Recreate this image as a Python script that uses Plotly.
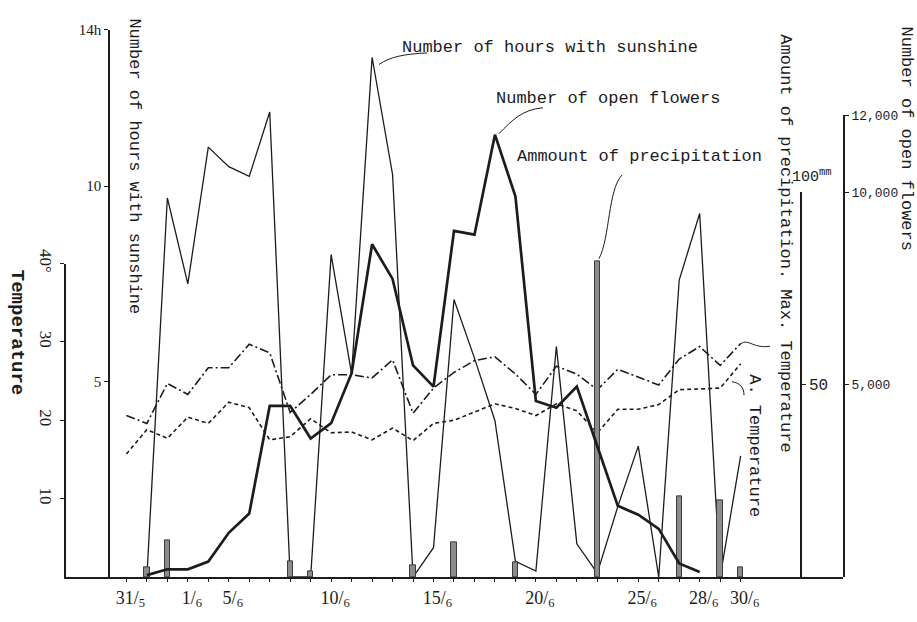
import plotly.graph_objects as go

# ---------------- data ----------------
days = list(range(0, 31))                      # 0 = 31 May, 1..30 = June
tick_days = list(range(0, 31))
tick_names = {0: "31/<sub>5</sub>", 3: "1/<sub>6</sub>", 5: "5/<sub>6</sub>",
              10: "10/<sub>6</sub>", 15: "15/<sub>6</sub>", 20: "20/<sub>6</sub>",
              25: "25/<sub>6</sub>", 28: "28/<sub>6</sub>", 30: "30/<sub>6</sub>"}

sun_days = list(range(1, 31))
sunshine = [0, 9.7, 7.5, 11.0, 10.5, 10.25, 11.9, 0, 0, 8.25,
            5.2, 13.3, 10.3, 0, 0.75, 7.1, 5.6, 4.0, 0.4, 0.15,
            5.9, 0.85, 0.1, 1.8, 3.35, 0, 7.6, 9.3, 0, 3.1]

flower_days = list(range(1, 29))
flowers = [50, 200, 200, 400, 1150, 1650, 4450, 4450, 3600, 4000,
           5300, 8650, 7750, 5500, 4950, 9000, 8900, 11500, 9900, 4575,
           4400, 4950, 3400, 1850, 1620, 1250, 350, 130]

max_temp = [20.6, 19.6, 24.7, 23.3, 26.7, 26.7, 29.7, 28.6, 21.0, 23.3,
            25.8, 25.8, 25.4, 27.7, 20.9, 24.1, 26.1, 27.6, 28.1, 25.9,
            23.3, 26.9, 25.9, 23.9, 26.5, 25.5, 24.5, 27.8, 29.4, 27.0, 29.8]

a_temp = [15.7, 18.8, 17.7, 20.4, 19.6, 22.3, 21.6, 17.5, 17.9, 20.2,
          18.4, 18.5, 17.5, 19.0, 17.4, 19.6, 20.0, 21.0, 22.1, 21.5,
          20.6, 22.1, 21.2, 18.4, 21.4, 21.4, 22.0, 23.9, 24.0, 24.1, 27.2]

precip_days = [1, 2, 8, 9, 14, 16, 19, 23, 27, 29, 30]
precip = [2.5, 9.5, 4, 1.5, 3, 9, 3.75, 82, 21, 20, 2.5]

temp_ticks = [10, 20, 30, 40]
temp_tick_text = ["10", "20", "30", "40°"]
sun_ticks = [5, 10, 14]
sun_tick_text = ["5", "10", "14h"]
flower_ticks = [5000, 10000, 12000]
flower_tick_text = ["5,000", "10,000", "12,000"]
precip_ticks = [50]
precip_tick_text = ["50"]

# ---------------- layout geometry ----------------
W, H = 917, 622
ML, MR, MT, MB = 66, 74, 20, 29
PW = W - ML - MR
PH = H - MT - MB


def px(x, y):
    """pixel position -> paper coordinates (for decorations only)"""
    return (x - ML) / PW, (H - MB - y) / PH


INK = "#1c1c1c"
MONO = "Liberation Mono, Courier New, monospace"
SERIF = "Liberation Serif, Times New Roman, serif"

fig = go.Figure()

# precipitation bars
fig.add_trace(go.Bar(x=precip_days, y=precip, width=0.26, yaxis="y3",
                     marker=dict(color="#8c8c8c", line=dict(color="#3a3a3a", width=1)),
                     showlegend=False))

# temperatures
fig.add_trace(go.Scatter(x=days, y=max_temp, mode="lines", yaxis="y",
                         line=dict(color=INK, width=1.6, dash="9px,3px,2px,3px"),
                         showlegend=False))
fig.add_trace(go.Scatter(x=days, y=a_temp, mode="lines", yaxis="y",
                         line=dict(color=INK, width=1.6, dash="4px,3px"),
                         showlegend=False))

# sunshine hours
fig.add_trace(go.Scatter(x=sun_days, y=sunshine, mode="lines", yaxis="y2",
                         line=dict(color=INK, width=1.3), showlegend=False))

# open flowers
fig.add_trace(go.Scatter(x=flower_days, y=flowers, mode="lines", yaxis="y4",
                         line=dict(color=INK, width=2.7), showlegend=False))

axis_common = dict(showgrid=False, zeroline=False, showline=True, linecolor=INK,
                   linewidth=1.6, ticks="outside", ticklen=4, tickcolor=INK,
                   tickmode="array")

fig.update_layout(
    width=W, height=H,
    margin=dict(l=ML, r=MR, t=MT, b=MB),
    paper_bgcolor="white", plot_bgcolor="rgba(0,0,0,0)",
    bargap=0, showlegend=False,
    xaxis=dict(domain=[0, 1], range=[-2.95, 35], anchor="y",
               showgrid=False, zeroline=False, showline=True, linecolor=INK,
               linewidth=2, ticks="outside", ticklen=3, tickcolor=INK,
               tickmode="array", tickvals=tick_days,
               ticktext=[tick_names.get(d, "") for d in tick_days],
               ticklabelshift=4,
               tickfont=dict(family=SERIF, size=18, color=INK)),
    yaxis=dict(axis_common, domain=[0, 40 * 8.15 / PH], range=[0, 40], anchor="x",
               side="left", tickvals=temp_ticks, ticktext=temp_tick_text,
               tickangle=90, tickfont=dict(family=SERIF, size=17, color=INK)),
    yaxis2=dict(axis_common, domain=[0, 14 * 40.64 / PH], range=[0, 14],
                anchor="free", position=(109 - ML) / PW, side="left",
                tickvals=sun_ticks, ticktext=sun_tick_text,
                tickfont=dict(family=SERIF, size=15, color=INK)),
    yaxis3=dict(axis_common, domain=[0, 400 / PH], range=[0, 100],
                anchor="free", position=(801 - ML) / PW, side="right",
                tickvals=precip_ticks, ticktext=precip_tick_text,
                tickfont=dict(family=MONO, size=16, color=INK)),
    yaxis4=dict(axis_common, domain=[0, 480 / PH], range=[0, 12000], anchor="x",
                side="right", tickvals=flower_ticks, ticktext=flower_tick_text,
                tickfont=dict(family=MONO, size=13, color=INK)),
)

annotations = []


def label(text, x, y, size=17, angle=0, xanchor="center", family=MONO, bold=False):
    xp, yp = px(x, y)
    if bold:
        text = "<b>" + text + "</b>"
    annotations.append(dict(text=text, x=xp, y=yp, xref="paper", yref="paper",
                            showarrow=False, textangle=angle, xanchor=xanchor,
                            yanchor="middle", font=dict(family=family, size=size, color=INK)))


label("Number of hours with sunshine", 400, 42, xanchor="left")
label("Number of open flowers", 494, 95, xanchor="left")
label("Ammount of precipitation", 515, 156, xanchor="left")
label("Number of hours with sunshine", 135, 166, angle=90)
label("Temperature", 17, 338, size=19, angle=90, bold=True)
label("Amount of precipitation. Max. Temperature", 786, 246, size=17, angle=90)
label("A. Temperature", 755, 456, size=17, angle=90)
label("Number of open flowers", 906, 137, size=17, angle=90)
label("100<sup>mm</sup>", 812, 176, size=15)

fig.update_layout(annotations=annotations)


def curve(points):
    (x0, y0), (c1x, c1y), (c2x, c2y), (x1, y1) = [px(*p) for p in points]
    return dict(type="path", xref="paper", yref="paper",
                path=f"M {x0},{y0} C {c1x},{c1y} {c2x},{c2y} {x1},{y1}",
                line=dict(color=INK, width=1))


shapes = [
    curve([(427, 48), (405, 49), (390, 52), (379, 60)]),
    curve([(543, 105), (522, 107), (512, 118), (499, 132)]),
    curve([(622, 175), (608, 190), (610, 240), (599, 262)]),
    curve([(739, 352), (748, 343), (752, 356), (770, 353)]),
    curve([(732, 390), (740, 391), (744, 396), (744, 404)]),
]
fig.update_layout(shapes=shapes)

fig.write_html("out.html")
